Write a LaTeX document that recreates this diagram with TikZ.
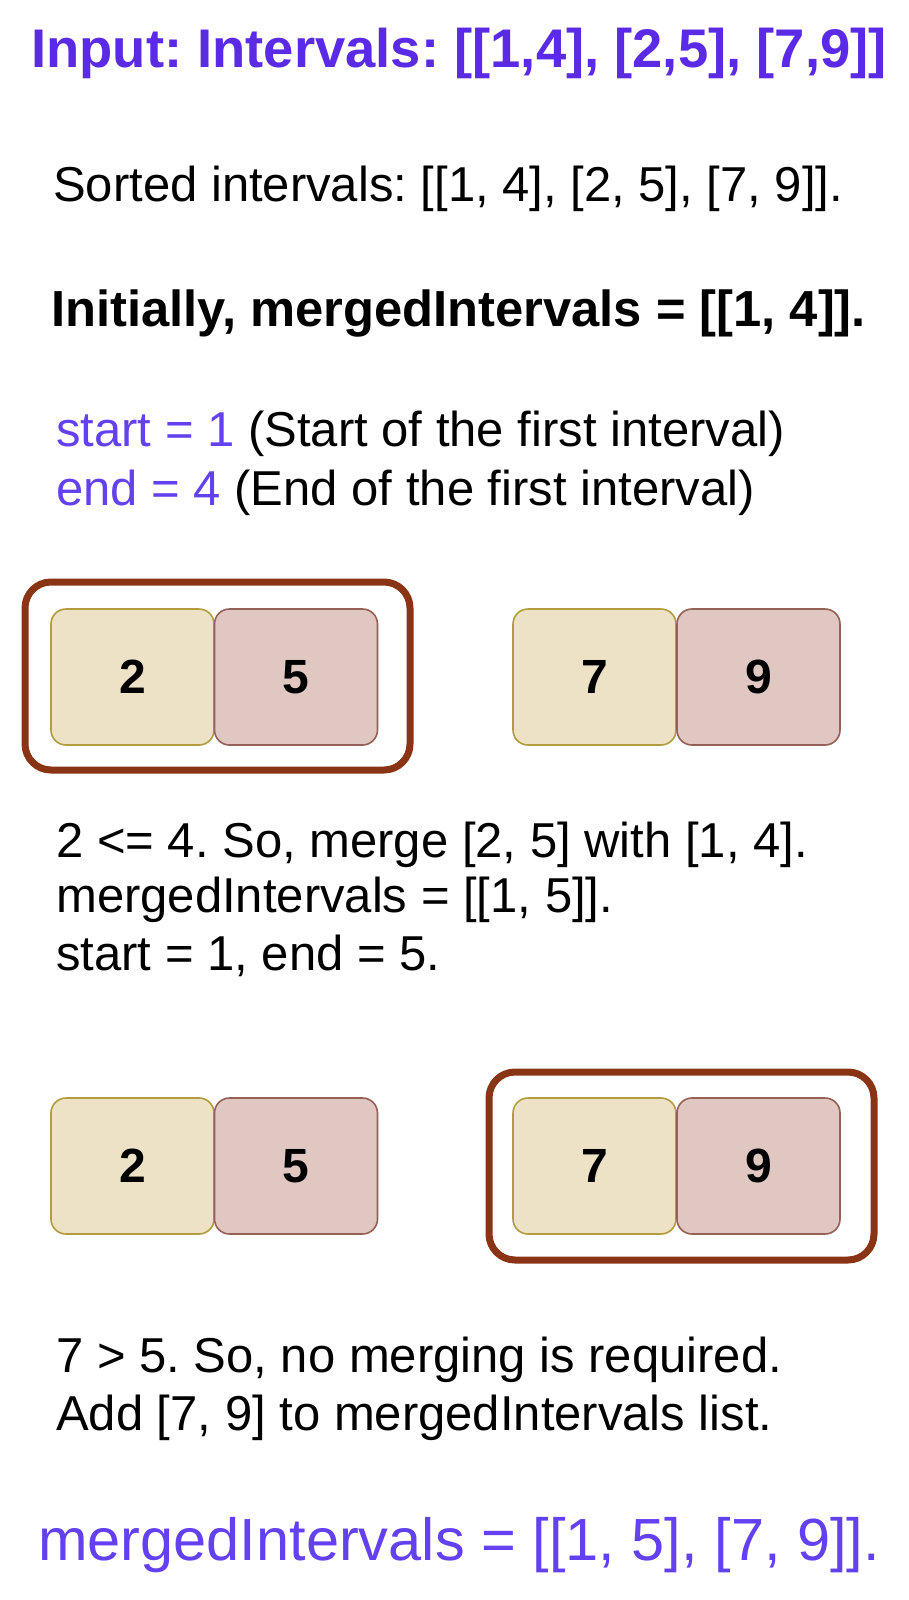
\documentclass[tikz,border=0pt]{standalone}
\usepackage{fontspec}
\setmainfont{Liberation Sans}
\frenchspacing
\definecolor{violetA}{HTML}{5A2AE6}
\definecolor{violetB}{HTML}{6441F0}
\definecolor{tanfill}{HTML}{EDE2C5}
\definecolor{tanline}{HTML}{B39C3E}
\definecolor{pinkfill}{HTML}{E0C7C1}
\definecolor{pinkline}{HTML}{956055}
\definecolor{brownline}{HTML}{8A3416}
\tikzset{
  txt/.style={anchor=west, inner sep=0pt, font=\fontsize{49}{58}\selectfont},
  lowbox/.style={draw=tanline, fill=tanfill, line width=1.6pt, rounded corners=15pt, minimum width=163pt, minimum height=136pt, inner sep=0pt, font=\fontsize{48}{55}\selectfont\bfseries},
  highbox/.style={draw=pinkline, fill=pinkfill, line width=1.6pt, rounded corners=15pt, minimum width=163pt, minimum height=136pt, inner sep=0pt, font=\fontsize{48}{55}\selectfont\bfseries},
  framebox/.style={draw=brownline, line width=7pt, rounded corners=26pt}
}
\begin{document}
\begin{tikzpicture}[x=1pt,y=-1pt]
\useasboundingbox (0,0) rectangle (908,1600);
\fill[white] (0,0) rectangle (908,1600);
\node[inner sep=0pt, font=\fontsize{54.4}{64}\selectfont\bfseries, text=violetA] (title) at (459,53) {Input: Intervals: [[1,4], [2,5], [7,9]]};
\node[txt] (sorted) at (53,189) {Sorted intervals: [[1, 4], [2, 5], [7, 9]].};
\node[txt, font=\fontsize{50.7}{58}\selectfont\bfseries] (init) at (51,314) {Initially, mergedIntervals = [[1, 4]].};
\node[txt] (start) at (56,434) {\textcolor{violetB}{start = 1} (Start of the first interval)};
\node[txt] (end) at (56,493) {\textcolor{violetB}{end = 4} (End of the first interval)};
% row 1
\draw[framebox] (25,582) rectangle (410,770);
\node[lowbox] (a2) at (132.5,677) {2};
\node[highbox] (a5) at (296,677) {5};
\node[lowbox] (a7) at (594.5,677) {7};
\node[highbox] (a9) at (758.5,677) {9};
\node[txt] (l1) at (56,845) {2 <= 4. So, merge [2, 5] with [1, 4].};
\node[txt] (l2) at (56,900) {mergedIntervals = [[1, 5]].};
\node[txt] (l3) at (56,956) {start = 1, end = 5.};
% row 2
\draw[framebox] (489,1072) rectangle (874,1260);
\node[lowbox] (b2) at (132.5,1166) {2};
\node[highbox] (b5) at (296,1166) {5};
\node[lowbox] (b7) at (594.5,1166) {7};
\node[highbox] (b9) at (758.5,1166) {9};
\node[txt] (m1) at (56,1360) {7 > 5. So, no merging is required.};
\node[txt] (m2) at (56,1418) {Add [7, 9] to mergedIntervals list.};
\node[txt, font=\fontsize{59.5}{70}\selectfont, text=violetB] (res) at (38,1545) {mergedIntervals = [[1, 5], [7, 9]].};
\end{tikzpicture}
\end{document}
